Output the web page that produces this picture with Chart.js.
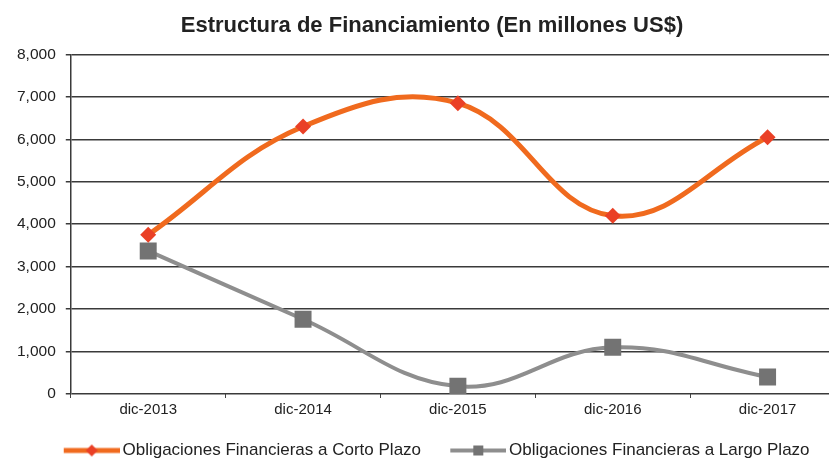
<!DOCTYPE html>
<html>
<head>
<meta charset="utf-8">
<script src="https://cdn.jsdelivr.net/npm/chart.js@4.4.1/dist/chart.umd.min.js"></script>
<style>
html, body { margin: 0; padding: 0; background: #fff; overflow: hidden; }
</style>
</head>
<body>
<canvas id="chart" width="857" height="469"></canvas>
<script>
const categories = ['dic-2013', 'dic-2014', 'dic-2015', 'dic-2016', 'dic-2017']
const cortoPlazo = [3750, 6300, 6850, 4200, 6050]
const largoPlazo = [3370, 1760, 180, 1100, 400]
const yMin = 0
const yMax = 8000
const yStep = 1000

const orangeLine = '#f06a1e'
const orangeMark = '#ea4026'
const grayLine = '#8e8e8e'
const grayMark = '#737373'

const legendFont = 17
const sampleW = 56
const extraGap = 9
const boxW = extraGap + sampleW + 3 - legendFont / 2

// legend sample: line with marker in the middle, drawn on the right part of the image
function legendSample(lineColor, markColor, shape) {
    const w = Math.round(2 * (extraGap + sampleW) - boxW)
    const c = document.createElement('canvas')
    c.width = w
    c.height = 14
    const ctx = c.getContext('2d')
    ctx.strokeStyle = lineColor
    ctx.lineWidth = shape === 'diamond' ? 5 : 4
    ctx.beginPath()
    ctx.moveTo(w - sampleW, 7)
    ctx.lineTo(w, 7)
    ctx.stroke()
    const cx = w - sampleW / 2
    ctx.fillStyle = markColor
    ctx.beginPath()
    if (shape === 'diamond') {
        ctx.moveTo(cx, 1); ctx.lineTo(cx + 6, 7); ctx.lineTo(cx, 13); ctx.lineTo(cx - 6, 7)
    } else {
        ctx.rect(cx - 5, 2, 10, 10)
    }
    ctx.closePath()
    ctx.fill()
    return c
}

const samples = [
    legendSample(orangeLine, orangeMark, 'diamond'),
    legendSample(grayLine, grayMark, 'square'),
]

new Chart(document.getElementById('chart'), {
    type: 'line',
    data: {
        labels: categories,
        datasets: [{
            label: 'Obligaciones Financieras a Corto Plazo',
            data: cortoPlazo,
            borderColor: orangeLine,
            borderWidth: 5,
            tension: 0.4,
            pointStyle: 'rectRot',
            pointRadius: 8,
            pointBackgroundColor: orangeMark,
            pointBorderColor: orangeMark,
            pointBorderWidth: 0,
        }, {
            label: 'Obligaciones Financieras a Largo Plazo',
            data: largoPlazo,
            borderColor: grayLine,
            borderWidth: 4,
            tension: 0.4,
            pointStyle: 'rect',
            pointRadius: 12,
            pointBackgroundColor: grayMark,
            pointBorderColor: grayMark,
            pointBorderWidth: 0,
        }]
    },
    options: {
        responsive: false,
        animation: false,
        layout: { padding: { left: 7, right: 0, top: 0, bottom: 0 } },
        plugins: {
            title: {
                display: true,
                text: 'Estructura de Financiamiento (En millones US$)',
                color: '#222',
                font: { family: 'Liberation Sans', size: 22, weight: 'bold' },
                padding: { top: 13, bottom: 15 }
            },
            legend: {
                position: 'bottom',
                labels: {
                    color: '#222',
                    font: { family: 'Liberation Sans', size: legendFont },
                    usePointStyle: true,
                    pointStyleWidth: boxW,
                    padding: 20,
                    generateLabels(chart) {
                        const items = Chart.defaults.plugins.legend.labels.generateLabels(chart)
                        items.forEach((it, i) => { it.pointStyle = samples[i] })
                        return items
                    }
                }
            },
            tooltip: { enabled: false }
        },
        scales: {
            x: {
                offset: true,
                grid: { display: true, offset: true, drawOnChartArea: false, tickLength: 4, color: '#444', lineWidth: 1 },
                border: { display: false },
                ticks: { color: '#222', padding: 3, font: { family: 'Liberation Sans', size: 15 } }
            },
            y: {
                min: yMin,
                max: yMax,
                grid: { color: '#3a3a3a', lineWidth: 1.5, tickLength: 5 },
                border: { display: true, color: '#3a3a3a', width: 1.5 },
                ticks: {
                    stepSize: yStep,
                    color: '#222',
                    padding: 10,
                    font: { family: 'Liberation Sans', size: 15.5 },
                    callback: v => v.toLocaleString('en-US')
                }
            }
        }
    }
})
</script>
</body>
</html>
